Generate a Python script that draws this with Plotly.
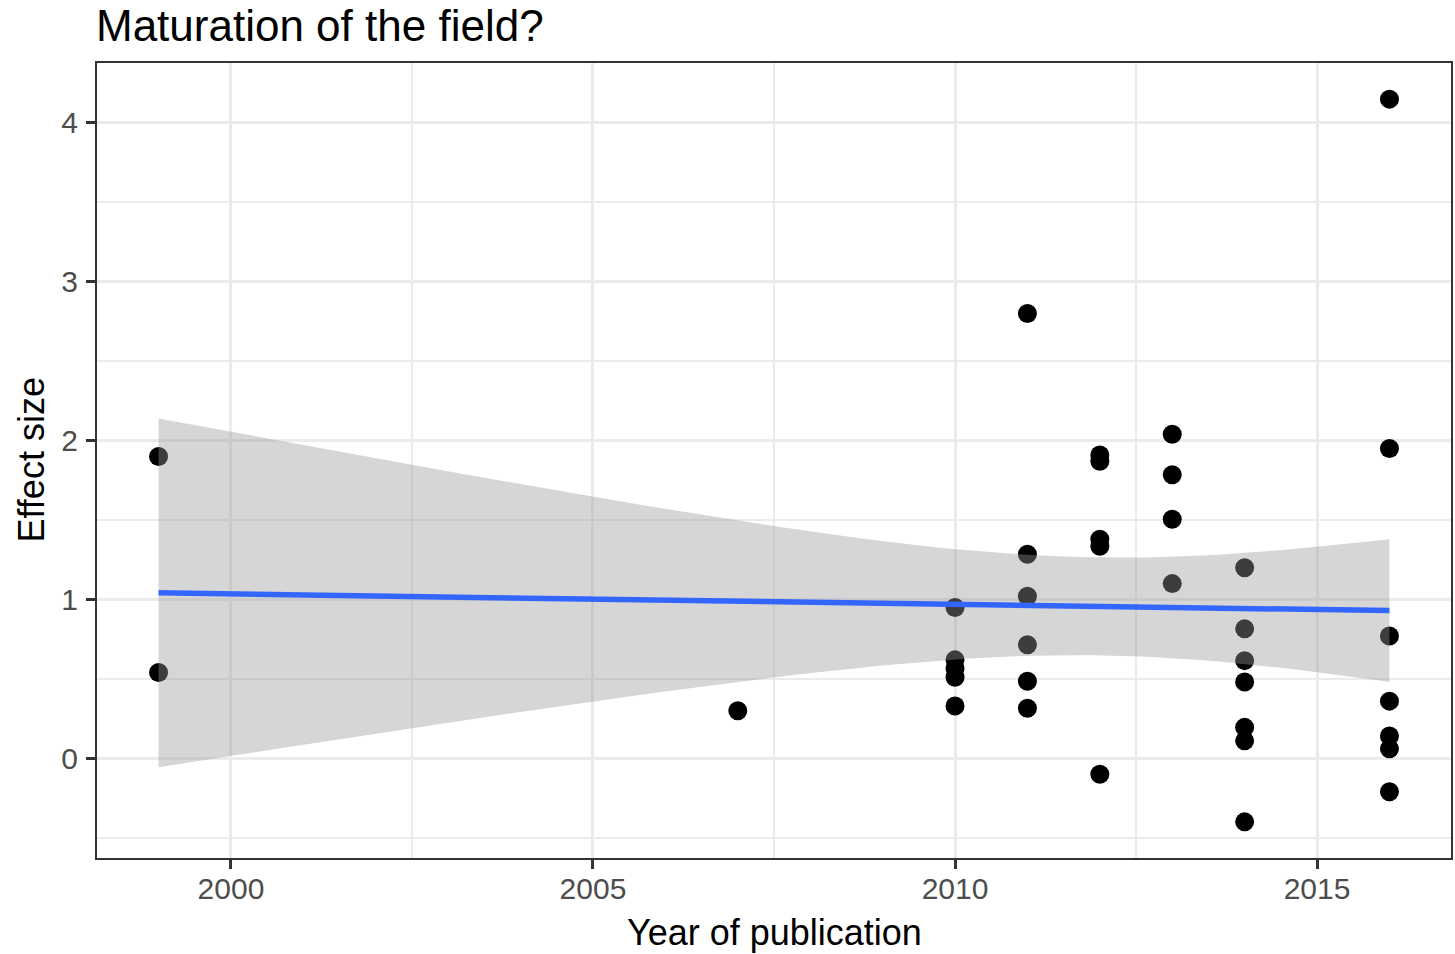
import math
import numpy as np
import plotly.graph_objects as go

# Effect sizes by year of publication
years = [1999, 1999,
         2007,
         2010, 2010, 2010, 2010, 2010,
         2011, 2011, 2011, 2011, 2011, 2011,
         2012, 2012, 2012, 2012, 2012,
         2013, 2013, 2013, 2013,
         2014, 2014, 2014, 2014, 2014, 2014, 2014,
         2016, 2016, 2016, 2016, 2016, 2016, 2016]
effect_sizes = [1.90, 0.54,
                0.30,
                0.95, 0.62, 0.565, 0.51, 0.33,
                2.80, 1.285, 1.02, 0.715, 0.485, 0.315,
                1.91, 1.87, 1.38, 1.335, -0.10,
                2.04, 1.785, 1.505, 1.10,
                1.20, 0.815, 0.615, 0.48, 0.195, 0.11, -0.40,
                4.15, 1.95, 0.77, 0.36, 0.14, 0.06, -0.21]

x_ticks = [2000, 2005, 2010, 2015]
y_ticks = [0, 1, 2, 3, 4]

# Linear smoother with 95% confidence band (like geom_smooth(method = "lm"))
x = np.array(years, dtype=float)
y = np.array(effect_sizes, dtype=float)
n = len(x)
slope, intercept = np.polyfit(x, y, 1)
resid = y - (intercept + slope * x)
dof = n - 2
s = math.sqrt(np.sum(resid ** 2) / dof)
sxx = np.sum((x - x.mean()) ** 2)
z = 1.959964
t_crit = z + (z ** 3 + z) / (4 * dof) + (5 * z ** 5 + 16 * z ** 3 + 3 * z) / (96 * dof ** 2)
grid = np.linspace(x.min(), x.max(), 80)
fit = intercept + slope * grid
se = s * np.sqrt(1.0 / n + (grid - x.mean()) ** 2 / sxx)
upper = fit + t_crit * se
lower = fit - t_crit * se

def expand(lo, hi, frac=0.05):
    pad = (hi - lo) * frac
    return [lo - pad, hi + pad]

x_range = expand(x.min(), x.max())
y_range = expand(y.min(), y.max())

FONT = "Liberation Sans, Arial, Helvetica, sans-serif"

fig = go.Figure()

fig.add_trace(go.Scatter(
    x=years, y=effect_sizes, mode="markers",
    marker=dict(color="black", size=19, line=dict(width=0)),
    hoverinfo="skip", showlegend=False,
))

fig.add_trace(go.Scatter(
    x=np.concatenate([grid, grid[::-1]]),
    y=np.concatenate([upper, lower[::-1]]),
    mode="lines", fill="toself",
    fillcolor="rgba(153,153,153,0.4)",
    line=dict(width=0),
    hoverinfo="skip", showlegend=False,
))

fig.add_trace(go.Scatter(
    x=grid, y=fit, mode="lines",
    line=dict(color="#3366FF", width=5.5),
    hoverinfo="skip", showlegend=False,
))

axis_common = dict(
    showgrid=True, gridcolor="#EBEBEB", gridwidth=3,
    zeroline=False,
    showline=True, mirror=True, linecolor="#333333", linewidth=2,
    ticks="outside", ticklen=9, tickwidth=2.5, tickcolor="#333333",
    tickfont=dict(family=FONT, size=30, color="#4D4D4D"),
)

fig.update_xaxes(
    range=x_range, tickvals=x_ticks,
    minor=dict(dtick=2.5, tick0=2000, showgrid=True, gridcolor="#EBEBEB", gridwidth=1.5),
    ticklabelstandoff=-6,
    **axis_common,
)
fig.update_yaxes(
    range=y_range, tickvals=y_ticks,
    minor=dict(dtick=0.5, tick0=0, showgrid=True, gridcolor="#EBEBEB", gridwidth=1.5),
    ticklabelstandoff=2,
    **axis_common,
)

fig.update_layout(
    width=1455, height=954,
    margin=dict(l=97, r=2, t=63, b=96),
    plot_bgcolor="white", paper_bgcolor="white",
    showlegend=False,
    annotations=[
        dict(text="Maturation of the field?", xref="paper", yref="paper",
             x=0, y=1, xanchor="left", yanchor="middle", yshift=38, xshift=-3,
             showarrow=False, font=dict(family=FONT, size=44, color="black")),
        dict(text="Year of publication", xref="paper", yref="paper",
             x=0.5, y=0, xanchor="center", yanchor="middle", yshift=-74,
             showarrow=False, font=dict(family=FONT, size=36, color="black")),
        dict(text="Effect size", xref="paper", yref="paper",
             x=0, y=0.5, xanchor="center", yanchor="middle", xshift=-66,
             textangle=-90,
             showarrow=False, font=dict(family=FONT, size=36, color="black")),
    ],
)

fig.write_html("out.html")
